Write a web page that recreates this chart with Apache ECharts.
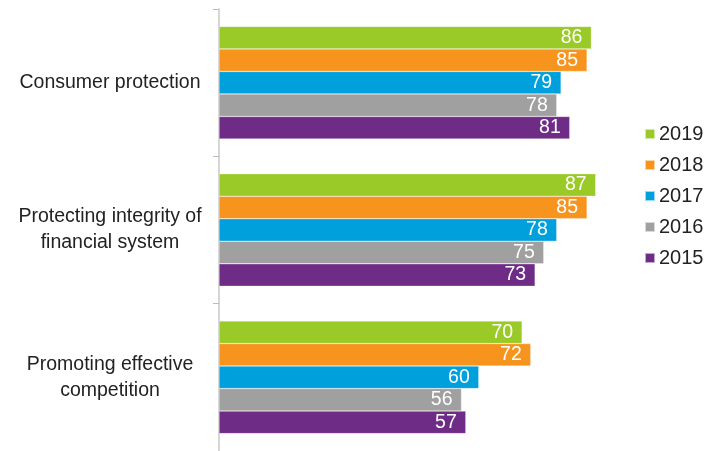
<!DOCTYPE html>
<html>
<head>
<meta charset="utf-8">
<script src="https://cdn.jsdelivr.net/npm/echarts@6/dist/echarts.min.js"></script>
<style>
  html, body { margin: 0; padding: 0; background: #fff; overflow: hidden; }
  #chart { width: 715px; height: 451px; }
</style>
</head>
<body>
<div id="chart"></div>
<script>
// Survey categories, top to bottom
const categories = [
  'Consumer protection',
  'Protecting integrity of\nfinancial system',
  'Promoting effective\ncompetition'
];

// Scores per year, in category order
const years = ['2019', '2018', '2017', '2016', '2015'];
const values2019 = [86, 87, 70];
const values2018 = [85, 85, 72];
const values2017 = [79, 78, 60];
const values2016 = [78, 75, 56];
const values2015 = [81, 73, 57];

const seriesValues = [values2019, values2018, values2017, values2016, values2015];
const colors = ['#9ACA27', '#F7941D', '#00A0DC', '#A0A0A0', '#6E2C87'];

const chart = echarts.init(document.getElementById('chart'));

chart.setOption({
  animation: false,
  color: colors,
  textStyle: { fontFamily: 'Liberation Sans, Arial, sans-serif' },
  grid: { left: 219, right: 63, top: 9, bottom: -3, containLabel: false },
  legend: {
    orient: 'vertical',
    left: 639,
    top: 119,
    icon: 'rect',
    itemWidth: 10,
    itemHeight: 10,
    itemGap: 11,
    data: years,
    textStyle: { fontSize: 20, color: '#222', padding: [0, 0, 0, -1] }
  },
  xAxis: {
    type: 'value',
    min: 0,
    max: 100,
    show: false
  },
  yAxis: {
    type: 'category',
    inverse: true,
    data: categories,
    axisLine: { lineStyle: { color: '#C8C8C8', width: 1.5 } },
    axisTick: { show: true, length: 6, lineStyle: { color: '#BDBDBD', width: 1 } },
    axisLabel: {
      align: 'center',
      margin: 109,
      fontSize: 19.5,
      lineHeight: 26,
      color: '#222'
    }
  },
  series: years.map((y, i) => ({
    name: y,
    type: 'bar',
    data: seriesValues[i],
    barGap: '0%',
    barCategoryGap: '23.6%',
    itemStyle: { borderColor: 'rgba(255,255,255,0.6)', borderWidth: 0.5 },
    label: {
      show: true,
      position: 'insideRight',
      distance: 9,
      color: '#fff',
      fontSize: 19.5
    }
  }))
});
</script>
</body>
</html>
